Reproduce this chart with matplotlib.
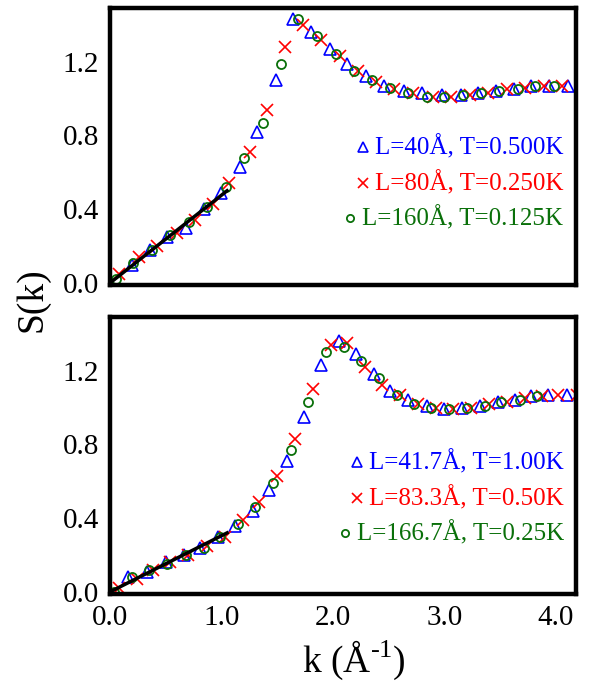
import matplotlib
matplotlib.use('Agg')
import matplotlib.pyplot as plt

plt.rcParams['font.family'] = ['Liberation Serif', 'DejaVu Serif']
plt.rcParams['mathtext.fontset'] = 'custom'
plt.rcParams['mathtext.rm'] = 'Liberation Serif'

BLUE = '#0000ff'
RED = '#ff0000'
GREEN = '#0a700a'

# ---- panel superior ----
k_top_blue = [0.20, 0.36, 0.51, 0.68, 0.84, 1.00, 1.17, 1.32, 1.49, 1.64, 1.80, 1.97,
              2.13, 2.30, 2.46, 2.64, 2.80, 2.98, 3.15, 3.30, 3.46, 3.62, 3.78, 3.94, 4.11]
s_top_blue = [0.10, 0.18, 0.25, 0.30, 0.40, 0.49, 0.63, 0.82, 1.10, 1.43, 1.36, 1.27,
              1.19, 1.12, 1.07, 1.04, 1.03, 1.02, 1.02, 1.03, 1.04, 1.05, 1.07, 1.07, 1.07]

k_top_red = [0.08, 0.26, 0.42, 0.60, 0.76, 0.92, 1.07, 1.26, 1.41, 1.57, 1.73, 1.89,
             2.06, 2.22, 2.39, 2.55, 2.72, 2.90, 3.06, 3.23, 3.39, 3.56, 3.72, 3.89, 4.05]
s_top_red = [0.05, 0.14, 0.20, 0.27, 0.34, 0.43, 0.54, 0.71, 0.94, 1.28, 1.40, 1.32,
             1.23, 1.15, 1.09, 1.05, 1.03, 1.01, 1.01, 1.02, 1.03, 1.05, 1.06, 1.07, 1.07]

k_top_green = [0.05, 0.21, 0.38, 0.54, 0.71, 0.87, 1.04, 1.20, 1.37, 1.53, 1.69, 1.86,
               2.03, 2.19, 2.35, 2.51, 2.67, 2.84, 3.00, 3.17, 3.33, 3.49, 3.66, 3.81, 3.98]
s_top_green = [0.02, 0.11, 0.18, 0.26, 0.33, 0.41, 0.52, 0.68, 0.87, 1.19, 1.43, 1.34,
               1.24, 1.15, 1.10, 1.06, 1.03, 1.01, 1.01, 1.02, 1.03, 1.04, 1.05, 1.07, 1.07]

# ---- panel inferior ----
k_bot_blue = [0.16, 0.33, 0.50, 0.66, 0.81, 0.97, 1.12, 1.28, 1.43, 1.59, 1.74, 1.89,
              2.05, 2.21, 2.37, 2.51, 2.67, 2.84, 3.00, 3.16, 3.32, 3.48, 3.63, 3.78, 3.93, 4.10]
s_bot_blue = [0.08, 0.11, 0.16, 0.20, 0.24, 0.30, 0.36, 0.44, 0.55, 0.71, 0.95, 1.23,
              1.36, 1.29, 1.18, 1.09, 1.04, 1.01, 0.99, 1.00, 1.01, 1.03, 1.04, 1.06, 1.07, 1.07]

k_bot_red = [0.08, 0.24, 0.39, 0.54, 0.70, 0.87, 1.03, 1.19, 1.34, 1.50, 1.66, 1.82,
             1.98, 2.13, 2.29, 2.44, 2.60, 2.76, 2.92, 3.08, 3.24, 3.40, 3.56, 3.72, 3.87, 4.02, 4.19]
s_bot_red = [0.02, 0.07, 0.12, 0.16, 0.20, 0.25, 0.30, 0.39, 0.49, 0.63, 0.83, 1.10,
             1.34, 1.35, 1.22, 1.12, 1.07, 1.02, 1.00, 0.99, 1.00, 1.02, 1.03, 1.05, 1.06, 1.07, 1.07]

k_bot_green = [0.04, 0.20, 0.35, 0.51, 0.68, 0.84, 0.99, 1.15, 1.30, 1.46, 1.62, 1.78,
               1.94, 2.10, 2.25, 2.41, 2.57, 2.73, 2.88, 3.04, 3.20, 3.36, 3.51, 3.68, 3.83]
s_bot_green = [0.00, 0.08, 0.12, 0.15, 0.20, 0.24, 0.30, 0.37, 0.46, 0.59, 0.77, 1.03,
               1.30, 1.33, 1.25, 1.16, 1.07, 1.02, 1.00, 0.99, 1.00, 1.01, 1.03, 1.04, 1.06]

# recta de pendiente inicial
k_line = [0.0, 1.05]
s_line_top = [0.0, 0.50]
s_line_bot = [0.0, 0.32]

labels_top = ['L=40Å, T=0.500K', 'L=80Å, T=0.250K', 'L=160Å, T=0.125K']
labels_bot = ['L=41.7Å, T=1.00K', 'L=83.3Å, T=0.50K', 'L=166.7Å, T=0.25K']

x_ticks = [0.0, 1.0, 2.0, 3.0, 4.0]
y_ticks = [0.0, 0.4, 0.8, 1.2]

ESTILOS = [
    dict(marker='^', color=BLUE, ms=8.5, mew=1.2, fillstyle='none'),
    dict(marker='x', color=RED, ms=8.5, mew=1.2),
    dict(marker='o', color=GREEN, ms=6.5, mew=1.3, fillstyle='none'),
]
LEYENDA_MS = [7, 7, 5.2]


def dibujar_panel(ax, series, k_lin, s_lin):
    for (k, s), est in zip(series, ESTILOS):
        ax.plot(k, s, ls='none', zorder=2, **est)
    ax.plot(k_lin, s_lin, color='black', lw=2.5, zorder=3)

    ax.set_xlim(0.0, 4.18)
    ax.set_ylim(-0.01, 1.49)
    ax.set_xticks(x_ticks)
    ax.set_yticks(y_ticks)
    ax.set_yticklabels([f'{v:.1f}' for v in y_ticks])
    ax.tick_params(length=0, labelsize=21, pad=8)
    for sp in ax.spines.values():
        sp.set_linewidth(3.2)


def leyenda(fig, ax, labels, x_right, y_rows):
    # texto alineado a la derecha, marcador justo antes del texto
    textos = []
    for lab, est, y in zip(labels, ESTILOS, y_rows):
        t = ax.text(x_right, y, lab, transform=ax.transAxes, ha='right', va='center',
                    fontsize=18, color=est['color'])
        textos.append(t)
    fig.canvas.draw()
    r = fig.canvas.get_renderer()
    inv = ax.transAxes.inverted()
    for t, est, ms, y in zip(textos, ESTILOS, LEYENDA_MS, y_rows):
        bb = t.get_window_extent(r)
        xm = inv.transform((bb.x0 - 12, 0))[0]
        e = dict(est)
        e['ms'] = ms
        ax.plot([xm], [y], ls='none', transform=ax.transAxes, clip_on=False, **e)


fig = plt.figure(figsize=(5.9, 6.88), dpi=100, facecolor='white')
ax1 = fig.add_axes([0.1864, 0.586, 0.790, 0.402])
ax2 = fig.add_axes([0.1864, 0.137, 0.790, 0.402])

dibujar_panel(ax1,
              [(k_top_blue, s_top_blue), (k_top_red, s_top_red), (k_top_green, s_top_green)],
              k_line, s_line_top)
dibujar_panel(ax2,
              [(k_bot_blue, s_bot_blue), (k_bot_red, s_bot_red), (k_bot_green, s_bot_green)],
              k_line, s_line_bot)

ax1.set_xticklabels([])
ax2.set_xticklabels([f'{v:.1f}' for v in x_ticks])

fig.text(0.055, 0.565, 'S(k)', rotation=90, ha='center', va='center', fontsize=27)
fig.text(0.600, 0.040, r'k (Å$^{\text{-1}}$)', ha='center', va='center', fontsize=27)

# filas de la leyenda (fracción de ejes)
leyenda(fig, ax1, labels_top, 0.972, [0.498, 0.368, 0.242])
leyenda(fig, ax2, labels_bot, 0.974, [0.477, 0.347, 0.220])

fig.savefig('out.png', dpi=100, facecolor='white')
